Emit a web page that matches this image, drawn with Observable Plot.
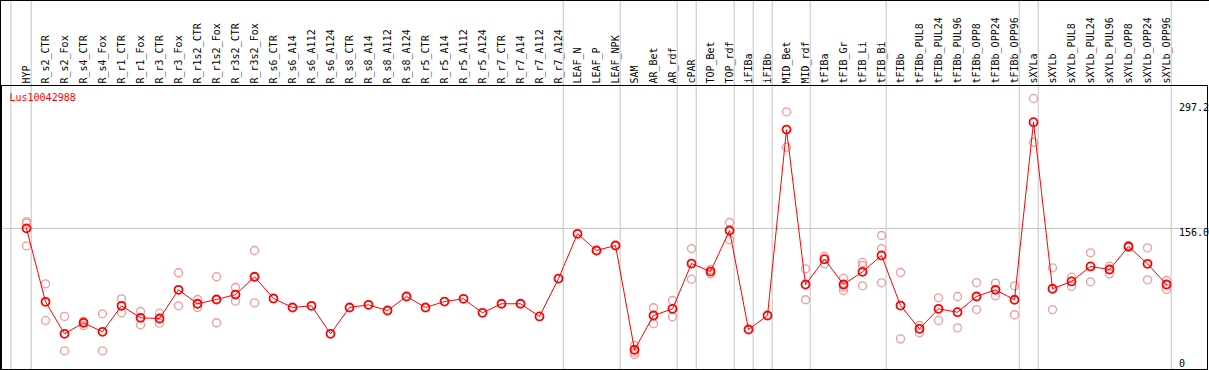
<!DOCTYPE html>
<html><head><meta charset="utf-8">
<script src="https://cdn.jsdelivr.net/npm/d3@7"></script>
<script src="https://cdn.jsdelivr.net/npm/@observablehq/plot@0.6"></script>
<style>html,body{margin:0;padding:0;background:#fff}svg{display:block}</style>
</head><body><div id="chart"></div>
<script>
const gene = "Lus10042988";
const categories = ["HYP","R_s2_CTR","R_s2_Fox","R_s4_CTR","R_s4_Fox","R_r1_CTR","R_r1_Fox","R_r3_CTR","R_r3_Fox","R_r1s2_CTR","R_r1s2_Fox","R_r3s2_CTR","R_r3s2_Fox","R_s6_CTR","R_s6_A14","R_s6_A112","R_s6_A124","R_s8_CTR","R_s8_A14","R_s8_A112","R_s8_A124","R_r5_CTR","R_r5_A14","R_r5_A112","R_r5_A124","R_r7_CTR","R_r7_A14","R_r7_A112","R_r7_A124","LEAF_N","LEAF_P","LEAF_NPK","SAM","AR_Bet","AR_rdf","cPAR","TOP_Bet","TOP_rdf","iFIBa","iFIBb","MID_Bet","MID_rdf","tFIBa","tFIB_Gr","tFIB_Li","tFIB_Bi","tFIBb","tFIBb_PUL8","tFIBb_PUL24","tFIBb_PUL96","tFIBb_OPP8","tFIBb_OPP24","tFIBb_OPP96","sXYLa","sXYLb","sXYLb_PUL8","sXYLb_PUL24","sXYLb_PUL96","sXYLb_OPP8","sXYLb_OPP24","sXYLb_OPP96"];
const means = [156.0,73.3,37.3,49.7,39.5,68.8,55.3,54.5,86.8,71.1,75.9,81.5,101.5,
  77.0,66.9,68.8,37.3, 66.9,69.9,63.5,79.3, 66.9,73.6,76.7,60.9, 71.1,71.1,56.8,99.5,
  149.9,131.1,136.7, 19.3,57.9,65.4, 116.4, 107.4,153.6, 42.1,57.9, 267.3,92.8,
  121.3,92.8,107.1,125.5, 69.1,42.9,65.4,61.6,79.3,86.8,75.6, 275.6,
  88.0,96.2,113.1,109.7,135.6,116.1,92.8];
const replicates = [
  [163.7,161.8,136.4],[93.6,52.3],[56.8,18.1],[51.5,46.6],[59.8,18.1],[76.7,60.9],[62.4,47.4],[60.5,49.2],[106.0,68.8],[75.9,66.9],[101.5,49.7],[89.4,74.0],[131.1,72.2],
  [],[],[],[],[],[],[],[],[],[],[],[],[],[],[],[],
  [],[],[],
  [24.1,16.6,14.0],[66.6,48.5],[74.8,56.4],[133.3,98.8],[109.7,104.8],[162.6,143.1],[],[],[287.3,247.4],[110.5,75.6],
  [124.7,116.1],[99.9,89.8,86.0],[117.6,114.2,91.3],[148.0,133.3,94.7],
  [106.3,31.6],[46.6,38.4],[77.8,52.3],[79.3,44.0],[95.0,64.6],[94.3,80.1],[91.3,58.7],
  [302.3,253.0],
  [111.6,64.6],[101.0,90.9],[128.5,95.8],[113.4,104.8],[136.7,134.5],[134.1,98.1],[97.3,87.2]
];
const groupEnds = ["HYP","R_r7_A124","LEAF_NPK","AR_rdf","cPAR","TOP_rdf","iFIBa","iFIBb","MID_rdf","tFIB_Bi","tFIBb_OPP96","sXYLa","sXYLb_OPP96"];
const refValue = 156.0;
const tickValues = [297.2, 156.0];
const tickLabels = ["297.2", "156.0"];
const zeroLabel = "0";

// layout
const W = 1209, H = 370, mT = 85, mL = 1, mR = 2, mB = 1;
const firstPx = 26, stepPx = 19;
const yZeroPx = 366.4, pxPerUnit = 0.888;
const xDomain = [(mL - firstPx) / stepPx, (W - mR - firstPx) / stepPx];
const yDomain = [(yZeroPx - (H - mB)) / pxPerUnit, (yZeroPx - mT) / pxPerUnit];

const meanData = means.map((v, i) => ({i, v}));
const repData = replicates.flatMap((arr, i) => arr.map(v => ({i, v})));
const seps = [-0.82, ...groupEnds.map(n => categories.indexOf(n) + 0.247)];

const font = "DejaVu Sans Mono";
const chart = Plot.plot({
  width: W, height: H,
  marginTop: mT, marginLeft: mL, marginRight: mR, marginBottom: mB,
  style: {fontFamily: font, fontSize: "10px", background: "#fff", color: "#000"},
  x: {type: "linear", domain: xDomain, axis: null},
  y: {type: "linear", domain: yDomain, axis: null},
  marks: [
    Plot.ruleX(seps, {x: d => d, stroke: "#c4c4c4", strokeWidth: 1, insetTop: -mT}),
    Plot.ruleY([refValue], {stroke: "#c4c4c4", strokeWidth: 1, insetLeft: -mL, insetRight: -mR}),
    Plot.frame({stroke: "#000"}),
    Plot.dot(repData, {x: "i", y: "v", r: 4, stroke: "#f09a9a", strokeWidth: 1.3, fill: "none"}),
    Plot.line(meanData, {x: "i", y: "v", stroke: "#ff0000", strokeWidth: 1}),
    Plot.dot(meanData, {x: "i", y: "v", r: 4, stroke: "#ff0000", strokeWidth: 1.8, fill: "none"}),
    Plot.text(categories, {x: (d, i) => i, text: d => d, frameAnchor: "top", dy: -2, rotate: -90, textAnchor: "start", lineAnchor: "middle", fill: "#000", fontSize: 10}),
    Plot.text(tickValues, {y: d => d, text: (d, i) => tickLabels[i], frameAnchor: "right", dx: -28.5, textAnchor: "start", lineAnchor: "top", dy: 0.5, fill: "#000", fontSize: 10}),
    Plot.text([zeroLabel], {y: 0, text: d => d, frameAnchor: "right", dx: -28.5, textAnchor: "start", lineAnchor: "bottom", dy: 0, fill: "#000", fontSize: 10}),
    Plot.text([gene], {text: d => d, frameAnchor: "top-left", dx: 8, dy: 12, textAnchor: "start", lineAnchor: "middle", fill: "#ff0000", fontSize: 10})
  ]
});
const svg = d3.select(chart);
svg.append("line").attr("x1", 0).attr("x2", W).attr("y1", 0.5).attr("y2", 0.5).attr("stroke", "#000");
svg.append("line").attr("x1", 0.5).attr("x2", 0.5).attr("y1", 0).attr("y2", H).attr("stroke", "#000");
document.getElementById("chart").appendChild(chart);
</script>
</body></html>
